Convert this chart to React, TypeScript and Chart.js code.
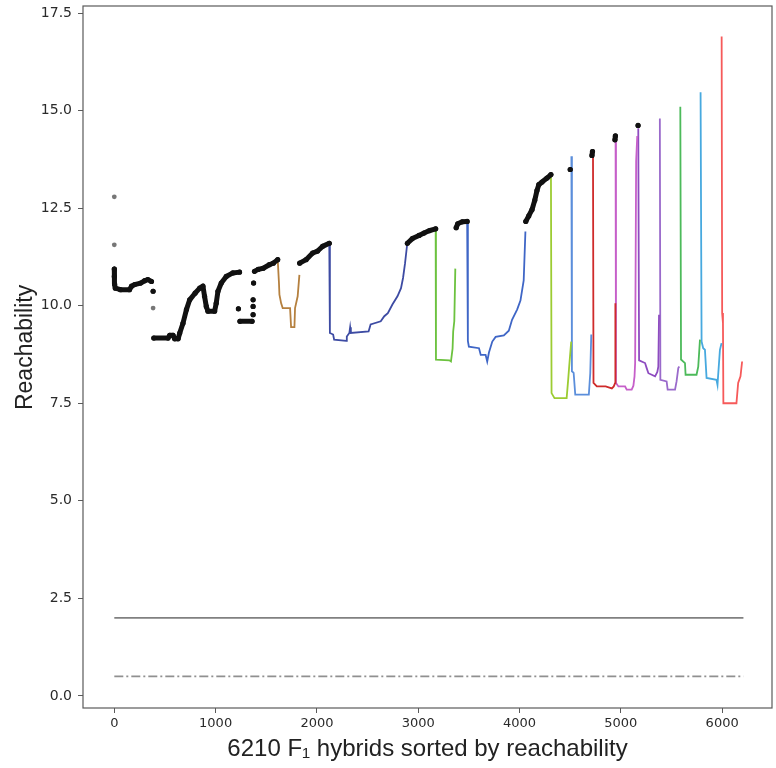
import React, { useEffect, useRef } from "react";
import { Chart, registerables } from "chart.js";

Chart.register(...registerables);

type Pt = [number, number];

// ---- axis ticks ----
const X_TICKS = [0, 1000, 2000, 3000, 4000, 5000, 6000];
const Y_TICKS = [0, 2.5, 5, 7.5, 10, 12.5, 15, 17.5];

// ---- noise (black dots), split in runs ----
const noiseRuns: Pt[][] = [
  [[0, 10.94], [0, 10.75], [3, 10.55], [10, 10.45], [60, 10.41], [150, 10.41], [170, 10.5], [200, 10.54], [260, 10.58], [300, 10.64], [330, 10.67], [367, 10.62]],
  [[383, 10.37]],
  [[390, 9.17], [530, 9.17], [547, 9.24], [580, 9.24], [596, 9.15], [630, 9.15], [646, 9.3], [678, 9.55], [712, 9.9], [744, 10.15], [797, 10.32], [843, 10.45], [875, 10.5], [891, 10.24], [908, 9.98], [924, 9.86], [990, 9.86], [1006, 10.06], [1023, 10.37], [1056, 10.58], [1105, 10.75], [1170, 10.84], [1236, 10.86]],
  [[1225, 9.92]],
  [[1240, 9.6], [1360, 9.6]],
  [[1370, 9.77]],
  [[1370, 9.98]],
  [[1370, 10.15]],
  [[1375, 10.58]],
  [[1384, 10.88], [1420, 10.93], [1470, 10.96], [1530, 11.05], [1570, 11.09], [1613, 11.18]],
  [[1830, 11.09], [1893, 11.18], [1958, 11.35], [2007, 11.4], [2056, 11.52], [2122, 11.6]],
  [[2893, 11.6], [2942, 11.72], [3008, 11.8], [3057, 11.86], [3107, 11.92], [3172, 11.97]],
  [[3375, 12.0], [3390, 12.1], [3434, 12.15], [3483, 12.16]],
  [[4062, 12.16], [4091, 12.3], [4123, 12.46], [4150, 12.7], [4172, 12.95], [4190, 13.1], [4222, 13.17], [4271, 13.27], [4310, 13.36]],
  [[4500, 13.49]],
  [[4715, 13.85], [4720, 13.95]],
  [[4942, 14.25], [4946, 14.35]],
  [[5170, 14.62]],
];
const greyDots: Pt[] = [[0, 12.79], [0, 11.56], [383, 9.94]];

// ---- clusters ----
const clusterBrown: Pt[] = [[1613, 11.18], [1625, 10.6], [1630, 10.28], [1647, 10.06], [1662, 9.94], [1735, 9.94], [1745, 9.45], [1778, 9.45], [1784, 9.94], [1810, 10.24], [1827, 10.79]];
const clusterNavy: Pt[] = [[2122, 11.6], [2128, 9.3], [2160, 9.26], [2170, 9.13], [2290, 9.1], [2295, 9.21], [2320, 9.3], [2328, 9.45], [2335, 9.3], [2510, 9.34], [2530, 9.52], [2630, 9.6], [2665, 9.73], [2700, 9.81], [2745, 10.03], [2795, 10.24], [2830, 10.45], [2850, 10.71], [2870, 11.09], [2885, 11.44], [2892, 11.6]];
const clusterGreen1: Pt[] = [[3172, 11.97], [3175, 8.62], [3307, 8.6], [3323, 8.57], [3339, 8.9], [3345, 9.34], [3356, 9.6], [3366, 10.95]];
const clusterBlue2: Pt[] = [[3483, 12.16], [3490, 9.1], [3500, 8.95], [3600, 8.91], [3617, 8.74], [3665, 8.74], [3681, 8.57], [3698, 8.8], [3731, 9.08], [3764, 9.2], [3845, 9.24], [3894, 9.36], [3926, 9.64], [3976, 9.9], [4009, 10.13], [4041, 10.65], [4058, 11.9]];
const clusterLime: Pt[] = [[4310, 13.36], [4316, 7.76], [4345, 7.63], [4465, 7.63], [4480, 8.1], [4490, 8.44], [4510, 9.08]];
const clusterBlue3: Pt[] = [[4512, 13.83], [4517, 8.32], [4534, 8.28], [4550, 7.72], [4684, 7.72], [4698, 8.27], [4708, 9.26]];
const clusterRed: Pt[] = [[4725, 14.0], [4730, 8.02], [4763, 7.93], [4850, 7.93], [4911, 7.88], [4930, 7.93], [4944, 8.02], [4946, 10.06]];
const clusterMagenta: Pt[] = [[4948, 14.3], [4952, 8.02], [4976, 7.93], [5042, 7.93], [5058, 7.85], [5107, 7.85], [5124, 7.95], [5135, 8.19], [5141, 8.53], [5151, 13.7], [5162, 14.35]];
const clusterViolet1: Pt[] = [[5172, 14.55], [5180, 8.6], [5239, 8.53], [5255, 8.4], [5272, 8.27], [5338, 8.19], [5360, 8.3], [5370, 8.44], [5377, 9.77]];
const clusterViolet2: Pt[] = [[5385, 14.8], [5390, 8.1], [5452, 8.06], [5462, 7.85], [5535, 7.85], [5550, 8.06], [5567, 8.4], [5577, 8.44]];
const clusterGreen3: Pt[] = [[5587, 15.1], [5594, 8.62], [5633, 8.53], [5639, 8.23], [5747, 8.23], [5764, 8.44], [5781, 9.13]];
const clusterCyan: Pt[] = [[5787, 15.47], [5797, 9.08], [5813, 8.91], [5830, 8.87], [5846, 8.15], [5944, 8.1], [5954, 7.97], [5960, 8.2], [5978, 8.87], [5994, 9.04]];
const clusterSalmon: Pt[] = [[5995, 16.9], [6000, 9.81], [6008, 9.55], [6012, 7.5], [6141, 7.5], [6158, 8.02], [6181, 8.19], [6197, 8.57]];

const clusterColors = ["#b5803f", "#3d4ba3", "#6cc23f", "#3f66c6", "#9ccc32", "#5b8edb", "#cf2b2b", "#c65fc9", "#8e4cc0", "#9a6acb", "#4cba5a", "#47a9df", "#f65a5a"];
const clusters: Pt[][] = [clusterBrown, clusterNavy, clusterGreen1, clusterBlue2, clusterLime, clusterBlue3, clusterRed, clusterMagenta, clusterViolet1, clusterViolet2, clusterGreen3, clusterCyan, clusterSalmon];

// ---- threshold lines ----
const N_HYBRIDS = 6210;
const solidLevel = 2.0;
const dashLevel = 0.5;

const X_MIN = -309;
const X_MAX = 6492;
const Y_MIN = -0.31;
const Y_MAX = 17.68;

const toXY = (pts: Pt[]) => pts.map(([x, y]) => ({ x, y }));

const framePlugin = {
  id: "frame",
  afterDraw(chart: any) {
    const { ctx, chartArea } = chart;
    const { left, top, right, bottom } = chartArea;
    ctx.save();
    ctx.strokeStyle = "#5a5a5a";
    ctx.lineWidth = 1.2;
    ctx.strokeRect(left, top, right - left, bottom - top);
    ctx.restore();
  },
};

export default function App() {
  const ref = useRef<HTMLCanvasElement | null>(null);
  useEffect(() => {
    document.body.style.margin = "0";
    const canvas = ref.current;
    if (!canvas) return;

    const noiseData: any[] = [];
    noiseRuns.forEach((run) => {
      run.forEach(([x, y]) => noiseData.push({ x, y }));
      noiseData.push({ x: run[run.length - 1][0], y: null });
    });

    const datasets: any[] = [
      {
        data: noiseData,
        showLine: true,
        spanGaps: false,
        borderColor: "#111111",
        borderWidth: 5,
        borderCapStyle: "round",
        borderJoinStyle: "round",
        pointRadius: 2.6,
        pointBackgroundColor: "#111111",
        pointBorderWidth: 0,
      },
      {
        data: toXY(greyDots),
        showLine: false,
        pointRadius: 2.4,
        pointBackgroundColor: "#777777",
        pointBorderWidth: 0,
      },
      ...clusters.map((c, i) => ({
        data: toXY(c),
        showLine: true,
        borderColor: clusterColors[i],
        borderWidth: 1.8,
        pointRadius: 0,
        borderJoinStyle: "miter",
      })),
      {
        data: [{ x: 0, y: solidLevel }, { x: N_HYBRIDS, y: solidLevel }],
        showLine: true,
        borderColor: "#808080",
        borderWidth: 1.6,
        pointRadius: 0,
      },
      {
        data: [{ x: 0, y: dashLevel }, { x: N_HYBRIDS, y: dashLevel }],
        showLine: true,
        borderColor: "#909090",
        borderWidth: 1.6,
        borderDash: [9, 3, 2, 3],
        pointRadius: 0,
      },
    ];

    const chart = new Chart(canvas, {
      type: "scatter",
      data: { datasets },
      plugins: [framePlugin],
      options: {
        responsive: false,
        animation: false,
        events: [],
        layout: { padding: { top: 6, right: 0, left: 0, bottom: 0 } },
        plugins: { legend: { display: false }, tooltip: { enabled: false } },
        scales: {
          x: {
            type: "linear",
            min: X_MIN,
            max: X_MAX,
            afterBuildTicks: (s: any) => {
              s.ticks = X_TICKS.map((v) => ({ value: v }));
            },
            afterFit: (s: any) => {
              s.height = 60;
              s.paddingLeft = 0;
              s.paddingRight = 0;
            },
            grid: { display: true, drawOnChartArea: false, drawTicks: true, tickLength: 5, color: "#5a5a5a", lineWidth: 1 },
            border: { display: false },
            ticks: {
              autoSkip: false,
              maxRotation: 0,
              padding: 3,
              color: "#2a2a2a",
              font: { family: "DejaVu Sans", size: 13 },
              callback: (v: any) => String(v),
            },
            title: {
              display: true,
              text: "6210 F\u2081 hybrids sorted by reachability",
              color: "#222222",
              font: { family: "Liberation Sans", size: 24 },
              padding: { top: 0, bottom: 4 },
            },
          },
          y: {
            type: "linear",
            min: Y_MIN,
            max: Y_MAX,
            afterBuildTicks: (s: any) => {
              s.ticks = Y_TICKS.map((v) => ({ value: v }));
            },
            afterFit: (s: any) => {
              s.width = 83;
              s.paddingTop = 0;
              s.paddingBottom = 0;
            },
            grid: { display: true, drawOnChartArea: false, drawTicks: true, tickLength: 5, color: "#5a5a5a", lineWidth: 1 },
            border: { display: false },
            ticks: {
              autoSkip: false,
              padding: 6,
              color: "#2a2a2a",
              font: { family: "DejaVu Sans", size: 14 },
              callback: (v: any) => Number(v).toFixed(1),
            },
            title: {
              display: true,
              text: "   Reachability",
              color: "#222222",
              font: { family: "Liberation Sans", size: 23 },
              padding: { top: 12, bottom: 0 },
            },
          },
        },
      } as any,
    });
    return () => chart.destroy();
  }, []);

  return <canvas ref={ref} width={776} height={768} style={{ display: "block" }} />;
}
